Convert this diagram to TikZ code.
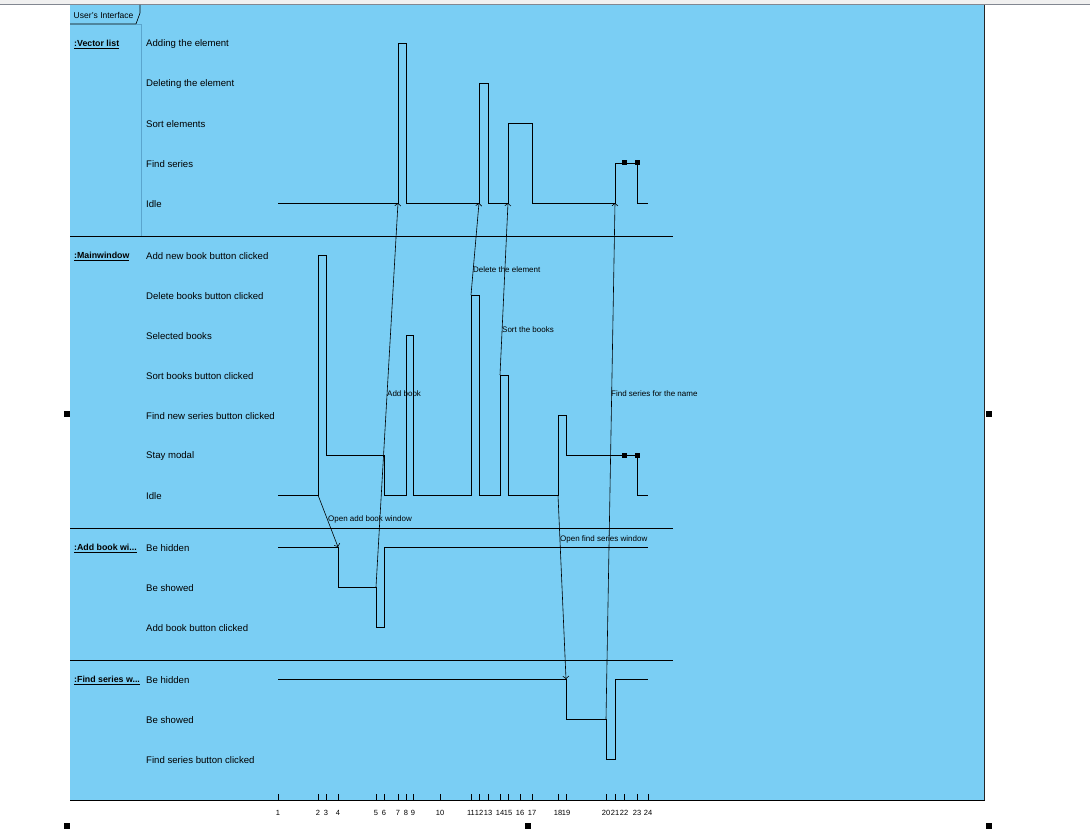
\documentclass[tikz,border=0pt]{standalone}
\usepackage{fontspec}
\setmainfont{Liberation Sans}
\usetikzlibrary{arrows.meta}
\definecolor{frameblue}{RGB}{122,206,244}
\definecolor{laneline}{RGB}{90,165,205}
\definecolor{topgray}{RGB}{240,240,240}
\definecolor{topline}{RGB}{130,135,145}
\begin{document}
\begin{tikzpicture}[x=1pt,y=-1pt,
  wave/.style={line width=0.8pt,black},
  msg/.style={line width=0.6pt,black,-{Straight Barb[length=2.5pt,width=6pt]}},
  sep/.style={line width=0.8pt,black},
  statelbl/.style={anchor=west,inner sep=0pt,yshift=-1.5pt,font=\fontsize{9.6}{11}\selectfont},
  lanelbl/.style={anchor=west,inner sep=0pt,yshift=-1.5pt,font=\fontsize{8.8}{11}\selectfont\bfseries},
  msglbl/.style={anchor=west,inner sep=0pt,yshift=-1.5pt,font=\fontsize{8}{10}\selectfont},
  ticklbl/.style={anchor=north,inner sep=0pt,font=\fontsize{7.5}{9}\selectfont},
  handle/.style={fill=black,draw=none,minimum size=6pt,inner sep=0pt,rectangle},
  marker/.style={fill=black,draw=none,minimum size=5pt,inner sep=0pt,rectangle}
]
\useasboundingbox (0,0) rectangle (1090,832);
\fill[white] (0,0) rectangle (1090,832);
% top strip
\fill[topgray] (0,0) rectangle (1090,4);
\draw[topline,line width=1pt] (0,4.5) -- (1090,4.5);
% frame
\fill[frameblue] (70,5) rectangle (984.5,800);
\draw[line width=1pt,black!85] (984.5,5) -- (984.5,800);
\draw[line width=0.8pt,black] (70,800) -- (984.5,800);
% tab
\draw[line width=0.6pt,black] (70,24) -- (136,24) -- (140,13) -- (140,5);
\node[anchor=west,inner sep=0pt,yshift=-1pt,font=\fontsize{8.5}{10}\selectfont] (tab) at (73.5,14.5) {User's Interface};
\draw[laneline,line width=0.8pt] (136,24) -- (141,24) -- (141,236);

% lane separators
\draw[sep] (70,236) -- (673,236);
\draw[sep] (70,528) -- (673,528);
\draw[sep] (70,660) -- (673,660);

% lane labels
\node[lanelbl] (l1) at (74,43) {\underline{:Vector list}};
\node[lanelbl] (l2) at (74,255) {\underline{:Mainwindow}};
\node[lanelbl] (l3) at (74,547) {\underline{:Add book wi...}};
\node[lanelbl] (l4) at (74,679) {\underline{:Find series w...}};

% state labels
\node[statelbl] (s1a) at (146,43) {Adding the element};
\node[statelbl] (s1b) at (146,83) {Deleting the element};
\node[statelbl] (s1c) at (146,123) {Sort elements};
\node[statelbl] (s1d) at (146,163) {Find series};
\node[statelbl] (s1e) at (146,203) {Idle};
\node[statelbl] (s2a) at (146,255) {Add new book button clicked};
\node[statelbl] (s2b) at (146,295) {Delete books button clicked};
\node[statelbl] (s2c) at (146,335) {Selected books};
\node[statelbl] (s2d) at (146,375) {Sort books button clicked};
\node[statelbl] (s2e) at (146,415) {Find new series button clicked};
\node[statelbl] (s2f) at (146,455) {Stay modal};
\node[statelbl] (s2g) at (146,495) {Idle};
\node[statelbl] (s3a) at (146,547) {Be hidden};
\node[statelbl] (s3b) at (146,587) {Be showed};
\node[statelbl] (s3c) at (146,627) {Add book button clicked};
\node[statelbl] (s4a) at (146,679) {Be hidden};
\node[statelbl] (s4b) at (146,719) {Be showed};
\node[statelbl] (s4c) at (146,759) {Find series button clicked};

% waveforms
\draw[wave] (278,203) -- (398,203) -- (398,43) -- (406,43) -- (406,203) -- (479,203)
  -- (479,83) -- (488,83) -- (488,203) -- (508,203) -- (508,123) -- (532,123) -- (532,203)
  -- (615,203) -- (615,163) -- (637,163) -- (637,203) -- (648,203);
\draw[wave] (278,495) -- (318,495) -- (318,255) -- (326,255) -- (326,455) -- (384,455)
  -- (384,495) -- (406,495) -- (406,335) -- (413,335) -- (413,495) -- (471,495)
  -- (471,295) -- (479,295) -- (479,495) -- (500,495) -- (500,375) -- (508,375)
  -- (508,495) -- (558,495) -- (558,415) -- (566,415) -- (566,455) -- (637,455)
  -- (637,495) -- (648,495);
\draw[wave] (278,547) -- (338,547) -- (338,587) -- (376,587) -- (376,627) -- (384,627)
  -- (384,547) -- (648,547);
\draw[wave] (278,679) -- (566,679) -- (566,719) -- (606,719) -- (606,759) -- (615,759)
  -- (615,679) -- (648,679);

% markers
\node[marker] (m1) at (624,163) {};
\node[marker] (m2) at (637,163) {};
\node[marker] (m3) at (624,455) {};
\node[marker] (m4) at (637,455) {};

% message endpoints
\coordinate (oa1) at (318,495);  \coordinate (oa2) at (338,547);
\coordinate (ab1) at (376,587);  \coordinate (ab2) at (398,203);
\coordinate (de1) at (471,295);  \coordinate (de2) at (479,203);
\coordinate (so1) at (500,375);  \coordinate (so2) at (508,203);
\coordinate (of1) at (558,495);  \coordinate (of2) at (566,679);
\coordinate (fs1) at (606,719);  \coordinate (fs2) at (615,203);

\draw[msg] (oa1) -- (oa2);
\draw[msg] (ab1) -- (ab2);
\draw[msg] (de1) -- (de2);
\draw[msg] (so1) -- (so2);
\draw[msg] (of1) -- (of2);
\draw[msg] (fs1) -- (fs2);

\node[msglbl] (t1) at (328,518) {Open add book window};
\node[msglbl] (t2) at (387,392) {Add book};
\node[msglbl] (t3) at (473,268) {Delete the element};
\node[msglbl] (t4) at (502,328) {Sort the books};
\node[msglbl] (t5) at (560,538) {Open find series window};
\node[msglbl] (t6) at (611,392) {Find series for the name};

% time axis
\foreach \n/\x in {1/278,2/318,3/326,4/338,5/376,6/384,7/398,8/406,9/413,10/440,
  11/471,12/479,13/488,14/500,15/508,16/520,17/532,18/558,19/566,20/606,21/615,
  22/624,23/637,24/648}{
  \draw[line width=0.8pt] (\x,794) -- (\x,800);
  \node[ticklbl] (tk\n) at (\x,810.5) {\n};
}

% selection handles
\node[handle] (h1) at (67,414) {};
\node[handle] (h2) at (989,414) {};
\node[handle] (h3) at (67,826) {};
\node[handle] (h4) at (528,826) {};
\node[handle] (h5) at (989,826) {};
\end{tikzpicture}
\end{document}
